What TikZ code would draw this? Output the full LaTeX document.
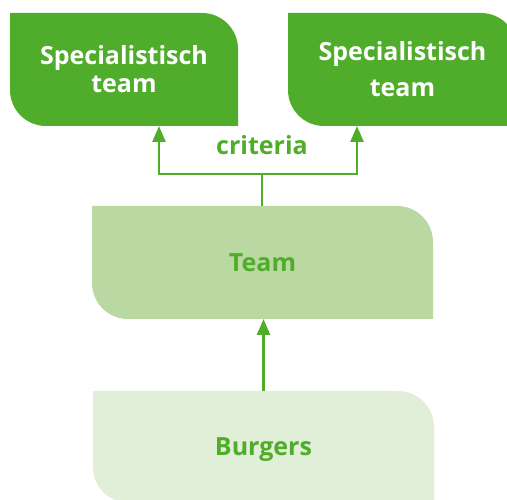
\documentclass[tikz,border=0pt]{standalone}
\usepackage{fontspec}
\setmainfont{Open Sans}
\usetikzlibrary{arrows.meta,calc}
\definecolor{dgreen}{HTML}{50AD2B}
\definecolor{mgreen}{HTML}{B9D8A2}
\definecolor{lgreen}{HTML}{E1EED8}
\tikzset{
  leafbox/.style={path picture={\fill[#1] (path picture bounding box.north west)
      -- ([xshift=-36pt]path picture bounding box.north east)
      arc[start angle=90,end angle=0,radius=36pt]
      -- (path picture bounding box.south east)
      -- ([xshift=36pt]path picture bounding box.south west)
      arc[start angle=270,end angle=180,radius=36pt] -- cycle;}},
  boxnode/.style={rectangle,inner sep=0pt,outer sep=0pt,align=center,
      font=\fontsize{25}{28}\selectfont\bfseries},
  arr/.style={draw=dgreen,line width=2.7pt,-{Triangle[length=16pt,width=13pt]}},
  ln/.style={draw=dgreen,line width=2.7pt}
}
\begin{document}
\begin{tikzpicture}[x=1pt,y=1pt]
\clip (0,0) rectangle (507,500);
\node[boxnode,leafbox=dgreen,text=white,minimum width=228pt,minimum height=113pt] (s1) at (124,430.5)
  {Specialistisch\\team};
\node[boxnode,leafbox=dgreen,text=white,minimum width=229pt,minimum height=113pt,
  font=\fontsize{25}{36}\selectfont\bfseries] (s2) at (402.5,430.5)
  {Specialistisch\\team};
\node[boxnode,leafbox=mgreen,text=dgreen,minimum width=341pt,minimum height=113pt] (t) at (262.5,237.5) {Team};
\node[boxnode,leafbox=lgreen,text=dgreen,minimum width=341pt,minimum height=112pt,text depth=0pt] (b) at (263.5,53) {Burgers};
\node[anchor=base,text=dgreen,font=\fontsize{25}{28}\selectfont\bfseries,inner sep=0pt] (crit) at (262,345) {criteria};
\coordinate (j) at (262,326);
\draw[ln] (t.north -| j) -- (j);
\draw[arr] (j) -| ($(s1.south)+(35,0)$);
\draw[arr] (j) -| ($(s2.south)+(-45.5,0)$);
\draw[arr] (b.north) -- (b.north |- t.south);
\end{tikzpicture}
\end{document}
